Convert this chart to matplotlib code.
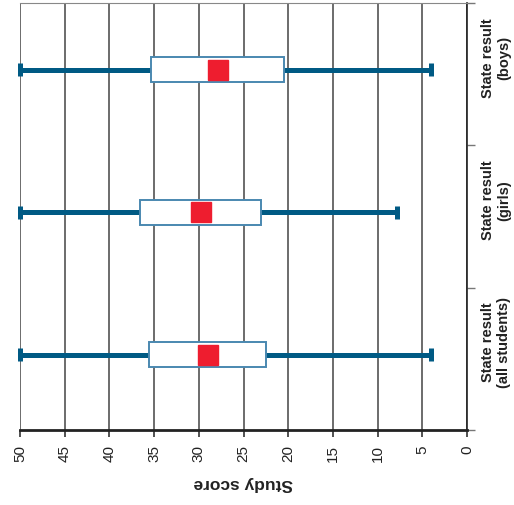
import numpy as np
import matplotlib.pyplot as plt
from matplotlib.transforms import ScaledTranslation

# data (study score)
groups = ['State result\n(all students)', 'State result\n(girls)', 'State result\n(boys)']
whisk_hi = [50, 50, 50]
box_hi = [35.6, 36.6, 35.3]
box_lo = [22.5, 23.0, 20.5]
whisk_lo = [4, 7.8, 4]
means = [29.0, 29.8, 27.9]

dark_blue = '#005a84'
box_edge = '#4a88b0'
red = '#ee1d2f'

plt.rcParams['font.family'] = ['Liberation Sans', 'DejaVu Sans']

fig = plt.figure(figsize=(5.14, 5.05), dpi=100)
ax = fig.add_axes([20/514, 1-430/505, 447/514, 427/505])

pos = np.arange(len(groups))
bw = 0.175
cap = 0.045
for i in pos:
    ax.plot([whisk_hi[i], whisk_lo[i]], [i, i], color=dark_blue, lw=3.6,
            solid_capstyle='butt', zorder=3, clip_on=False)
    for v in (whisk_hi[i], whisk_lo[i]):
        ax.plot([v, v], [i-cap, i+cap], color=dark_blue, lw=3.6,
                solid_capstyle='butt', zorder=3, clip_on=False)
    ax.add_patch(plt.Rectangle((box_lo[i], i-bw/2), box_hi[i]-box_lo[i], bw,
                               facecolor='white', edgecolor=box_edge, lw=1.4, zorder=4))
    ax.plot(means[i], i, marker='s', ms=14.5, color=red, mec=red, zorder=5, ls='none')

ax.set_xlim(50, 0)
ax.set_ylim(-0.53, 2.47)
ax.set_xticks(np.arange(0, 51, 5))
ax.set_xticklabels([str(v) for v in range(0, 51, 5)], rotation=90, fontsize=11, color='#222222')
ax.tick_params(axis='x', length=5, width=1.2, color='#333333', pad=6)
ax.grid(axis='x', color='#444444', lw=1.1)
ax.set_axisbelow(True)
ax.set_xlabel('Study score', rotation=180, fontsize=12.5, fontweight='bold',
              color='#222222', labelpad=10)

ax.yaxis.tick_right()
ax.set_yticks(pos)
ax.set_yticklabels(groups, rotation=90, fontsize=10.5, fontweight='bold',
                   color='#222222', va='center', ha='left', multialignment='center')
ax.tick_params(axis='y', which='major', length=0, pad=10)
ax.set_yticks([-0.53, 0.47, 1.47, 2.47], minor=True)
ax.tick_params(axis='y', which='minor', length=5.5, width=1, color='#777777', right=True, left=False)
shift = ScaledTranslation(0, 12/100, fig.dpi_scale_trans)
for lab in ax.get_yticklabels():
    lab.set_transform(lab.get_transform() + shift)

ax.spines['left'].set_visible(False)
ax.spines['top'].set_color('#888888')
ax.spines['bottom'].set_color('#222222')
ax.spines['bottom'].set_linewidth(2)
ax.spines['right'].set_color('#222222')
ax.spines['right'].set_linewidth(1.2)

fig.savefig('out.png', dpi=100)
